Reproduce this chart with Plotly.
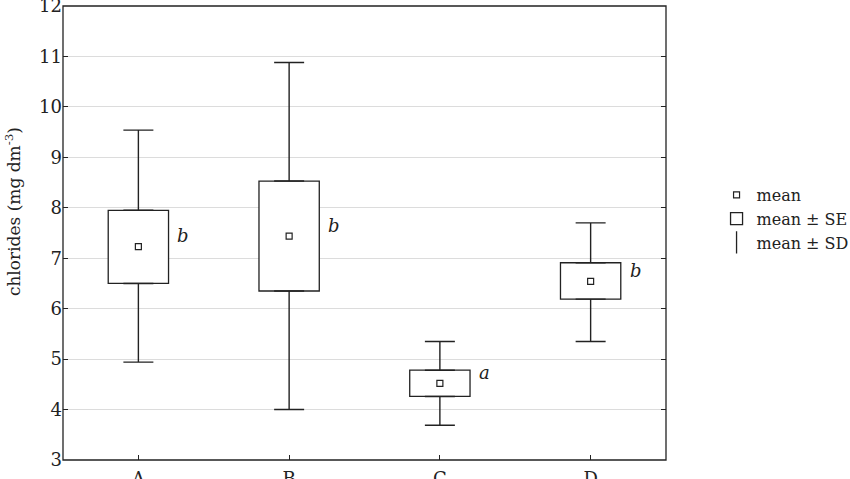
import plotly.graph_objects as go

# group statistics
groups = ["A", "B", "C", "D"]
means = [7.23, 7.44, 4.52, 6.54]
se_low = [6.50, 6.35, 4.26, 6.19]
se_high = [7.95, 8.53, 4.78, 6.91]
sd_low = [4.94, 4.00, 3.69, 5.35]
sd_high = [9.54, 10.88, 5.35, 7.70]
letters = ["b", "b", "a", "b"]

FONT = "DejaVu Serif"
INK = "#222222"

fig = go.Figure()

# SE boxes
fig.add_trace(go.Bar(
    x=groups,
    y=[h - l for h, l in zip(se_high, se_low)],
    base=se_low,
    width=0.4,
    marker=dict(color="white", line=dict(color=INK, width=1.3)),
    name="mean ± SE",
    legendrank=2,
))

# SD whiskers, from box edge to cap
fig.add_trace(go.Scatter(
    x=groups, y=se_high, mode="markers",
    marker=dict(size=1, color="rgba(0,0,0,0)"),
    error_y=dict(type="data", symmetric=False,
                 array=[h - s for h, s in zip(sd_high, se_high)],
                 arrayminus=[0] * 4,
                 color=INK, thickness=1.4, width=15),
    showlegend=False, hoverinfo="skip",
))
fig.add_trace(go.Scatter(
    x=groups, y=se_low, mode="markers",
    marker=dict(size=1, color="rgba(0,0,0,0)"),
    error_y=dict(type="data", symmetric=False,
                 array=[0] * 4,
                 arrayminus=[s - l for s, l in zip(se_low, sd_low)],
                 color=INK, thickness=1.4, width=15),
    showlegend=False, hoverinfo="skip",
))

# means
fig.add_trace(go.Scatter(
    x=groups, y=means, mode="markers",
    marker=dict(symbol="square-open", size=6, color=INK, line=dict(width=1.2)),
    name="mean", legendrank=1,
))

# legend-only entry for the whiskers
fig.add_trace(go.Scatter(
    x=[None], y=[None], mode="markers",
    marker=dict(symbol="line-ns-open", size=16, color=INK, line=dict(width=1.3, color=INK)),
    name="mean ± SD", legendrank=3,
))

# significance letters
for g, m, t in zip(groups, means, letters):
    fig.add_annotation(x=g, y=m, text=t, showarrow=False,
                       xshift=45, yshift=11,
                       font=dict(family=FONT, size=18, color=INK, style="italic"))

# y title sits a little above the middle in the original, so use an annotation
fig.add_annotation(x=0, y=0.546, xref="paper", yref="paper", xshift=-50,
                   text="chlorides (mg dm<sup>-3</sup>)", textangle=-90,
                   showarrow=False, xanchor="center", yanchor="middle",
                   font=dict(family=FONT, size=17, color=INK))

fig.add_shape(type="rect", xref="x domain", yref="y domain",
              x0=0, x1=1, y0=0, y1=1, line=dict(color=INK, width=1.3))

fig.update_xaxes(
    range=[-0.5, 3.5], showgrid=False, ticks="inside", ticklen=5,
    tickcolor=INK, showline=False, automargin=False,
    ticklabelstandoff=6,
    tickfont=dict(family=FONT, size=18, color=INK),
)
fig.update_yaxes(
    range=[3, 12], dtick=1, showgrid=True, gridcolor="#dcdcdc", gridwidth=1,
    ticks="inside", ticklen=5, tickcolor=INK, mirror="ticks",
    showline=False, zeroline=False, automargin=False,
    ticklabeloverflow="allow",
    tickfont=dict(family=FONT, size=18, color=INK),
)

fig.update_layout(
    template="none",
    width=850, height=479,
    margin=dict(l=63, r=184, t=6, b=19),
    plot_bgcolor="white", paper_bgcolor="white",
    legend=dict(xref="container", yref="container",
                x=0.843, y=0.543, yanchor="middle", xanchor="left",
                font=dict(family=FONT, size=16, color=INK),
                tracegroupgap=0, bgcolor="rgba(0,0,0,0)"),
    font=dict(family=FONT, color=INK),
)

# drop the default page margin so the figure fills the window
fig.write_html(
    "out.html",
    config={"displayModeBar": False, "responsive": False},
    post_script="document.body.style.margin='0';document.body.style.overflow='hidden';",
)
